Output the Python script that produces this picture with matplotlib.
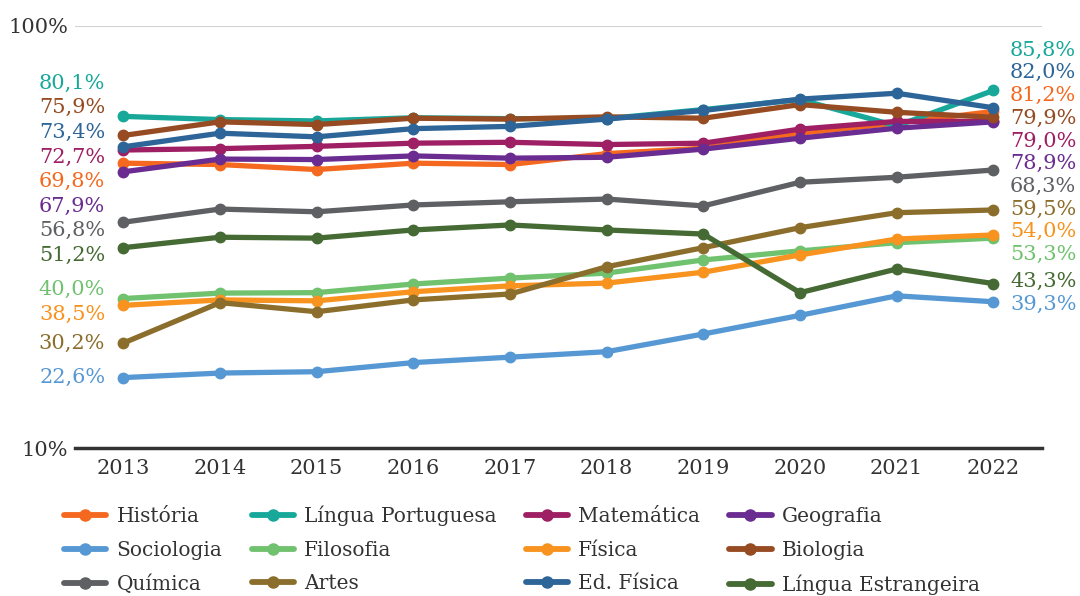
import matplotlib
matplotlib.use('Agg')
import matplotlib.pyplot as plt
from matplotlib.lines import Line2D

# data (percent)
years = [2013, 2014, 2015, 2016, 2017, 2018, 2019, 2020, 2021, 2022]

historia = [69.8, 69.5, 68.4, 69.8, 69.5, 71.9, 73.1, 76.4, 78.6, 81.2]
lingua_portuguesa = [80.1, 79.4, 79.1, 79.8, 79.6, 79.6, 81.6, 83.8, 78.0, 85.8]
matematica = [72.7, 73.0, 73.5, 74.2, 74.4, 73.9, 74.2, 77.3, 79.0, 79.0]
geografia = [67.9, 70.7, 70.6, 71.4, 70.9, 71.1, 72.9, 75.3, 77.5, 78.9]
sociologia = [22.6, 23.6, 23.9, 25.9, 27.1, 28.3, 32.2, 36.3, 40.6, 39.3]
filosofia = [40.0, 41.2, 41.3, 43.2, 44.5, 45.6, 48.5, 50.5, 52.3, 53.3]
fisica = [38.5, 39.7, 39.5, 41.5, 42.8, 43.4, 45.8, 49.6, 53.1, 54.0]
biologia = [75.9, 78.9, 78.3, 79.7, 79.5, 80.0, 79.7, 82.7, 81.0, 79.9]
quimica = [56.8, 59.7, 59.1, 60.6, 61.3, 61.9, 60.4, 65.6, 66.7, 68.3]
artes = [30.2, 39.1, 37.1, 39.7, 41.0, 47.0, 51.2, 55.6, 58.9, 59.5]
ed_fisica = [73.4, 76.4, 75.6, 77.4, 77.9, 79.5, 81.4, 83.9, 85.2, 82.0]
lingua_estrangeira = [51.2, 53.5, 53.3, 55.1, 56.2, 55.1, 54.2, 41.3, 46.5, 43.3]

names = ['História', 'Língua Portuguesa', 'Matemática', 'Geografia',
         'Sociologia', 'Filosofia', 'Física', 'Biologia',
         'Química', 'Artes', 'Ed. Física', 'Língua Estrangeira']
series = [historia, lingua_portuguesa, matematica, geografia,
          sociologia, filosofia, fisica, biologia,
          quimica, artes, ed_fisica, lingua_estrangeira]
colors = ['#f4691f', '#17a89a', '#9e1f63', '#6a2c91',
          '#5698d3', '#70c26f', '#f7931e', '#964b22',
          '#5f6063', '#8c6e2c', '#2d6598', '#456a34']

plt.rcParams['font.family'] = ['DejaVu Serif']
plt.rcParams['font.size'] = 15
text_col = '#333333'

y_min, y_max = 7.1, 100


def spread(vals, gap):
    # push labels apart: overlapping groups get centred on their mean
    order = sorted(range(len(vals)), key=lambda i: -vals[i])
    groups = []
    for i in order:
        groups.append([i])
        while len(groups) > 1:
            a, b = groups[-2], groups[-1]
            ca = sum(vals[k] for k in a) / len(a)
            cb = sum(vals[k] for k in b) / len(b)
            a_low = ca - (len(a) - 1) * gap / 2
            b_high = cb + (len(b) - 1) * gap / 2
            if a_low - b_high < gap:
                groups[-2:] = [a + b]
            else:
                break
    pos = [0] * len(vals)
    for g in groups:
        c = sum(vals[k] for k in g) / len(g)
        top = c + (len(g) - 1) * gap / 2
        for n, k in enumerate(g):
            pos[k] = top - n * gap
    return pos


def fmt(v):
    return f'{v:.1f}'.replace('.', ',') + '%'


fig = plt.figure(figsize=(10.8, 5.96), dpi=100)
ax = fig.add_axes([0.0694, 0.2483, 0.8951, 0.7081])

for name, vals, col in zip(names, series, colors):
    ax.plot(years, vals, color=col, lw=3.8, marker='o', ms=7.5,
            solid_capstyle='round', label=name, clip_on=False)

# end labels
first = [s[0] for s in series]
last = [s[-1] for s in series]
left_pos = spread(first, 5.4)
right_pos = spread(last, 5.0)
for k, col in enumerate(colors):
    ax.annotate(fmt(first[k]), xy=(years[0], left_pos[k]), xytext=(-13, 0),
                textcoords='offset points', ha='right', va='center',
                color=col, fontsize=15)
    ax.annotate(fmt(last[k]), xy=(years[-1], right_pos[k]), xytext=(12, 0),
                textcoords='offset points', ha='left', va='center',
                color=col, fontsize=15, annotation_clip=False)

ax.set_xlim(years[0] - 0.5, years[-1] + 0.5)
ax.set_ylim(y_min, y_max)
ax.axhline(y_max, color='#d2d2d2', lw=1.5, zorder=0)
ax.axhline(y_min, color='#333333', lw=2.5, zorder=5, clip_on=False)
for s in ax.spines.values():
    s.set_visible(False)

ax.set_xticks(years)
ax.set_xticklabels([str(y) for y in years], color=text_col)
ax.set_yticks([y_min, y_max])
ax.set_yticklabels(['10%', '100%'], color=text_col)
ax.tick_params(axis='both', length=0)
ax.tick_params(axis='x', pad=8)
ax.tick_params(axis='y', pad=5)

# legend laid out row by row (matplotlib fills columns first)
handles = [Line2D([], [], color=c, lw=4.2, marker='o', ms=8,
                  solid_capstyle='round') for c in colors]
ncol = 4
nrow = 3
order = [r * ncol + c for c in range(ncol) for r in range(nrow)]
fig.legend([handles[i] for i in order], [names[i] for i in order],
           ncol=ncol, loc='upper left', bbox_to_anchor=(0.05, 0.168),
           frameon=False, borderpad=0, handlelength=2.1, handletextpad=0.5,
           labelspacing=0.72, columnspacing=1.45, fontsize=14.5,
           labelcolor=text_col)

fig.savefig('out.png', dpi=100)
